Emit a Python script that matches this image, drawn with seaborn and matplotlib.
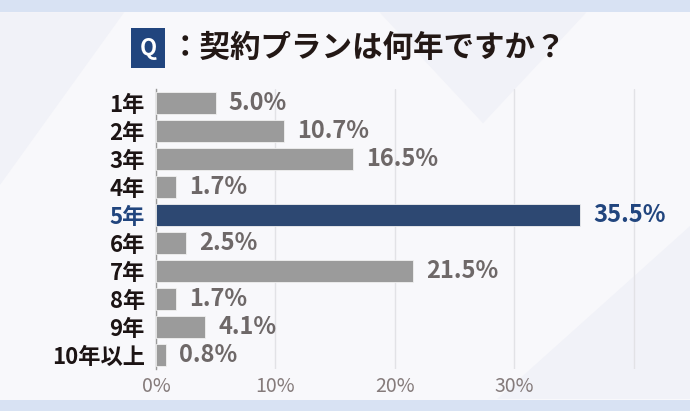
import matplotlib
import matplotlib.pyplot as plt
import matplotlib.patches as mpatches
import pandas as pd
import seaborn as sns

matplotlib.use("Agg")

categories = ["1年", "2年", "3年", "4年", "5年", "6年", "7年", "8年", "9年", "10年以上"]
shares = [5.0, 10.7, 16.5, 1.7, 35.5, 2.5, 21.5, 1.7, 4.1, 0.8]
highlight = "5年"
x_ticks = [0, 10, 20, 30, 40]
x_tick_labels = ["0%", "10%", "20%", "30%", ""]
title = "：契約プランは何年ですか？"

NAVY = "#21457e"
GRAY_BAR = "#9b9b9b"
GRAY_TXT = "#6e6868"

sns.set_style("white")
plt.rcParams["font.family"] = ["Noto Sans CJK JP", "DejaVu Sans"]

df = pd.DataFrame({"cat": categories, "share": shares})
palette = {c: (NAVY if c == highlight else GRAY_BAR) for c in categories}

fig = plt.figure(figsize=(6.9, 4.11), dpi=100, facecolor="#d8e2f3")

# background: white panel plus faint triangles, in its own axes behind everything
bg = fig.add_axes([0, 0, 1, 1], zorder=-5)
bg.set_xlim(0, 1)
bg.set_ylim(0, 1)
bg.axis("off")
bg.add_patch(mpatches.Rectangle((0, 11 / 411), 1, 388 / 411,
                                facecolor="#f8f8fb", edgecolor="none"))
for pts in [
    [(0.0, 0.97), (0.18, 0.97), (0.0, 0.55)],
    [(0.72, 0.03), (1.0, 0.03), (1.0, 0.45)],
    [(0.55, 0.97), (0.85, 0.97), (0.70, 0.70)],
]:
    bg.add_patch(mpatches.Polygon(pts, closed=True, facecolor="#f1f2f8",
                                  edgecolor="none"))

ax = fig.add_axes([156 / 690, 42 / 411, 485 / 690, 280 / 411])
ax.set_facecolor("none")

sns.barplot(
    data=df, x="share", y="cat", hue="cat", palette=palette, orient="h",
    width=0.78, legend=False, edgecolor="#f0f0f0", linewidth=0.6, ax=ax,
    zorder=3,
)

ax.set_xlim(0, 40.6)
ax.set_ylim(len(categories) - 0.5, -0.5)
ax.set_xticks(x_ticks)
ax.set_xticklabels(x_tick_labels, fontsize=14, color="#857b7b")
ax.grid(axis="x", color="#e2e2e6", linewidth=1.0, zorder=0)
ax.set_axisbelow(True)
ax.set_xlabel("")
ax.set_ylabel("")
for s in ["top", "right", "bottom"]:
    ax.spines[s].set_visible(False)
ax.spines["left"].set_color("#9a9a9a")
ax.spines["left"].set_linewidth(1.0)
ax.tick_params(axis="x", length=0, pad=5)
ax.tick_params(axis="y", length=0, pad=8, labelsize=16)

for lbl in ax.get_yticklabels():
    lbl.set_fontweight("bold")
    lbl.set_color(NAVY if lbl.get_text() == highlight else "#1c1414")

for i, (c, v) in enumerate(zip(categories, shares)):
    ax.text(
        v + 1.1, i, f"{v:.1f}%", va="center", ha="left",
        fontsize=17, fontweight="bold",
        color=NAVY if c == highlight else GRAY_TXT, zorder=4,
    )

# title with the "Q" box
fig.text(148 / 690, 1 - 48 / 411, "Q", ha="center", va="center", fontsize=16,
         fontweight="bold", color="white",
         bbox=dict(boxstyle="square,pad=0.38", facecolor=NAVY, edgecolor="none"))
fig.text(170 / 690, 1 - 48 / 411, title, ha="left", va="center", fontsize=22,
         fontweight="bold", color="#231815")

plt.savefig("out.png", dpi=100, facecolor=fig.get_facecolor())
plt.close()
